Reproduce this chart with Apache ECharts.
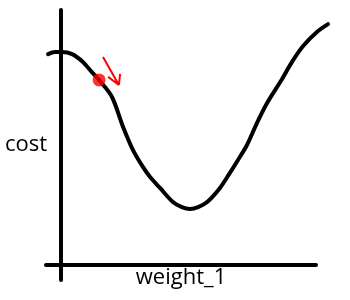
<!DOCTYPE html>
<html>
<head>
<meta charset="utf-8">
<script src="https://cdn.jsdelivr.net/npm/echarts@6/dist/echarts.min.js"></script>
<style>html,body{margin:0;padding:0;background:#fff}#c{width:350px;height:300px}</style>
</head>
<body>
<div id="c"></div>
<script>
// Cost curve as a function of weight_1 (hand-drawn shape)
const weightValues = [-0.43,-0.2,0.03,0.37,0.73,1.03,1.3,1.7,2.07,2.4,2.73,2.97,3.3,3.73,4.03,4.3,4.57,4.87,5.3,5.63,5.9,6.2,6.53,6.87,7.37,7.7,8.07,8.53,8.9];
const costValues   = [7.03,7.1,7.1,7.03,6.77,6.43,6.13,5.6,4.6,3.83,3.27,2.93,2.57,2.1,1.93,1.87,1.93,2.1,2.57,3.07,3.5,4.0,4.73,5.4,6.2,6.77,7.3,7.77,8.03];
// Current point (red dot)
const currentPoint = [1.27, 6.17];
// Arrow showing the gradient step direction: tail, tip, head arms
const arrowTail = [1.4, 6.93];
const arrowTip  = [1.93, 6.0];
const arrowHeadA = [1.57, 6.27];
const arrowHeadB = [1.97, 6.37];
const xLabel = 'weight_1';
const yLabel = 'cost';

const curve = weightValues.map((w, i) => [w, costValues[i]]);
const chart = echarts.init(document.getElementById('c'), null, {renderer: 'canvas'});
const font = '"Open Sans", sans-serif';
const hidden = {axisLine: {show: false}, axisTick: {show: false}, axisLabel: {show: false}, splitLine: {show: false}};
chart.setOption({
  animation: false,
  backgroundColor: '#fff',
  grid: [
    {left: 46, width: 285, top: 10, height: 270, containLabel: false, outerBoundsMode: 'none'},
    {left: 46, width: 270, top: 10, height: 270, containLabel: false, outerBoundsMode: 'none'}
  ],
  xAxis: [
    Object.assign({type: 'value', gridIndex: 0, min: -0.5, max: 9}, hidden),
    {
      type: 'value', gridIndex: 1, min: -0.5, max: 8.5,
      axisLine: {onZero: true, lineStyle: {color: '#000', width: 4}},
      axisTick: {show: false}, axisLabel: {show: false}, splitLine: {show: false},
      name: xLabel, nameLocation: 'middle', nameGap: -13,
      nameTextStyle: {color: '#000', fontSize: 22, fontFamily: font}
    }
  ],
  yAxis: [
    {
      type: 'value', gridIndex: 0, min: -0.5, max: 8.5,
      axisLine: {onZero: true, lineStyle: {color: '#000', width: 4}},
      axisTick: {show: false}, axisLabel: {show: false}, splitLine: {show: false},
      name: yLabel, nameLocation: 'middle', nameGap: -1, nameRotate: 0,
      nameTextStyle: {color: '#000', fontSize: 22, fontFamily: font}
    },
    Object.assign({type: 'value', gridIndex: 1, min: -0.5, max: 8.5}, hidden)
  ],
  series: [
    {
      type: 'line', xAxisIndex: 0, yAxisIndex: 0, data: curve, smooth: 0.3, showSymbol: false,
      lineStyle: {color: '#000', width: 4, cap: 'round'}, z: 2
    },
    {
      type: 'scatter', xAxisIndex: 0, yAxisIndex: 0, data: [currentPoint], symbolSize: 13,
      itemStyle: {color: '#ff0000'}, z: 3
    },
    {
      type: 'line', xAxisIndex: 0, yAxisIndex: 0,
      data: [arrowTail, arrowTip, arrowHeadA, '-', arrowHeadB, arrowTip],
      showSymbol: false, connectNulls: false,
      lineStyle: {color: '#ff0000', width: 2}, z: 3
    }
  ]
});
</script>
</body>
</html>
